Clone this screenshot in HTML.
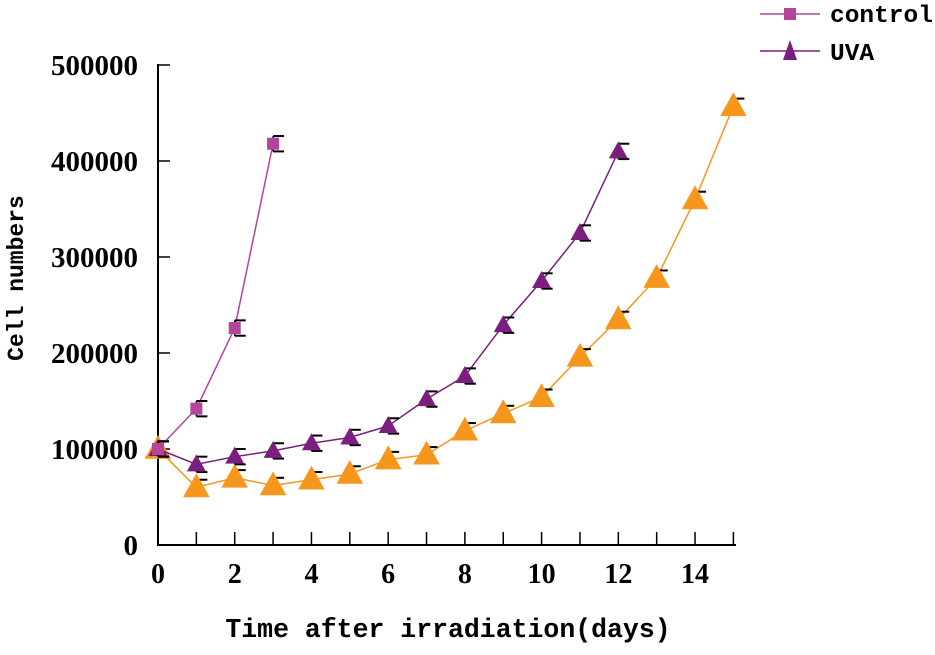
<!DOCTYPE html>
<html><head><style>
body{margin:0;background:#fff;}
text{font-weight:bold;fill:#000;}
.s{font-family:"Liberation Serif","Noto Serif CJK SC",serif;}
.m{font-family:"Liberation Mono","Noto Serif CJK SC",monospace;}
</style></head><body>
<svg id="c" width="935" height="650"></svg>
<script>
const days=[0,1,2,3,4,5,6,7,8,9,10,11,12,13,14,15];
const controlVals=[100000,142000,226000,418000];
const uvaVals=[100000,84000,92000,98000,106000,112000,124000,152000,176000,229000,275000,325000,410000];
const orangeVals=[100000,60000,70000,62000,68000,74000,89000,94000,119000,137000,154000,196000,235000,278000,360000,457000];
const errVals=8000;
const xTicks=[0,2,4,6,8,10,12,14];
const yTicks=[0,100000,200000,300000,400000,500000];
const NS="http://www.w3.org/2000/svg";
const svg=document.getElementById('c');
const X=d=>158+d*38.36;
const Y=v=>545-v*0.00096;
function mk(t,a,p){const e=document.createElementNS(NS,t);for(const k in a)e.setAttribute(k,a[k]);(p||svg).appendChild(e);return e;}
let ax=mk('line',{x1:158,y1:545,x2:158,y2:64,stroke:'#000','stroke-width':2});


ax=mk('line',{x1:157,y1:545,x2:736,y2:545,stroke:'#000','stroke-width':2});


for(let d=1;d<=15;d++){mk('line',{x1:X(d),y1:545,x2:X(d),y2:532,stroke:'#000','stroke-width':1.5});}
xTicks.forEach(t=>{const e=mk('text',{x:X(t),y:583,'text-anchor':'middle','font-size':28,class:'s'});e.textContent=t;

});
yTicks.forEach(t=>{mk('line',{x1:158,y1:Y(t),x2:170,y2:Y(t),stroke:'#000','stroke-width':1.5});
const e=mk('text',{x:138,y:Y(t)+10,'text-anchor':'end','font-size':29,class:'s'});e.textContent=t;

});
let t=mk('text',{x:448,y:637,'text-anchor':'middle','font-size':26.5,class:'m'});t.textContent='Time after irradiation(days)';


t=mk('text',{x:0,y:0,'text-anchor':'middle','font-size':23,class:'m',transform:'translate(23,278) rotate(-90)'});t.textContent='Cell numbers';


function series(vals,color,marker,name,size){
 const g=mk('g',{});
 
 
 mk('polyline',{points:vals.map((v,i)=>X(days[i])+','+Y(v)).join(' '),fill:'none',stroke:color,'stroke-width':1.5},g);
 vals.forEach((v,i)=>{const x=X(days[i]),y=Y(v);
  mk('line',{x1:x,y1:Y(v+errVals),x2:x,y2:Y(v-errVals),stroke:'#000','stroke-width':1.5},g);
  mk('line',{x1:x,y1:Y(v+errVals),x2:x+11,y2:Y(v+errVals),stroke:'#000','stroke-width':2},g);
  mk('line',{x1:x,y1:Y(v-errVals),x2:x+11,y2:Y(v-errVals),stroke:'#000','stroke-width':2},g);
  let m;
  if(marker==='sq')m=mk('rect',{x:x-6,y:y-6,width:12,height:12,fill:color},g);
  else m=mk('polygon',{points:`${x},${y-size} ${x-size*0.95},${y+size*0.7} ${x+size*0.95},${y+size*0.7}`,fill:color},g);
  
  
 });
}
series(orangeVals,'#f7961d','tri','orange',14);
series(uvaVals,'#7a1f7d','tri','uva',10);
series(controlVals,'#b5459a','sq','control');
const lg=mk('g',{});


mk('line',{x1:760,y1:14,x2:820,y2:14,stroke:'#b5459a','stroke-width':1.5},lg);
mk('rect',{x:784,y:8,width:12,height:12,fill:'#b5459a'},lg);
t=mk('text',{x:830,y:22,'font-size':24.5,class:'m'},lg);t.textContent='control';


mk('line',{x1:760,y1:51,x2:820,y2:51,stroke:'#7a1f7d','stroke-width':1.5},lg);
mk('polygon',{points:'790,40 783,60 797,60',fill:'#7a1f7d'},lg);
t=mk('text',{x:830,y:60,'font-size':24.5,class:'m'},lg);t.textContent='UVA';


</script>
</body></html>
